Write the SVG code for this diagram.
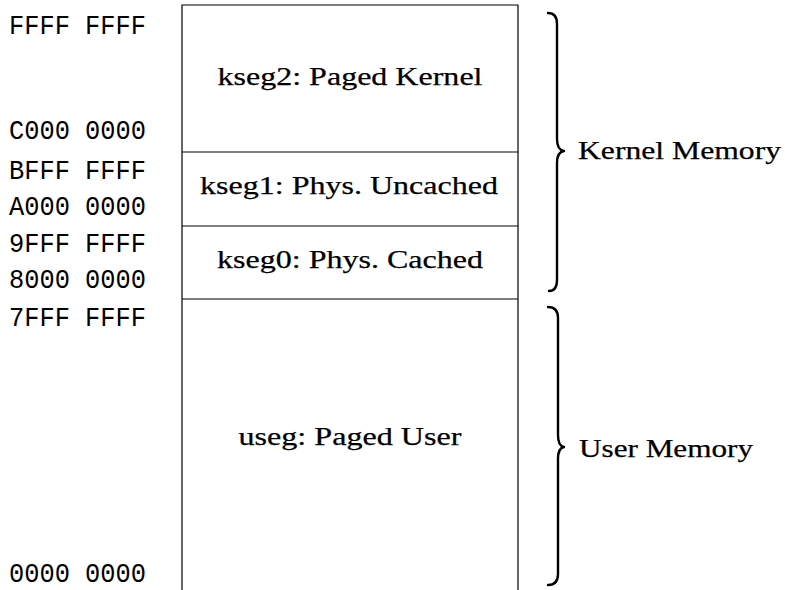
<svg xmlns="http://www.w3.org/2000/svg" width="785" height="590" viewBox="0 0 785 590">
<style>
.box{fill:none;stroke:#000;stroke-width:1.2}
.seg{font-family:"Liberation Serif","Times New Roman",serif;font-size:26px;fill:#000;stroke:#000;stroke-width:0.25;text-anchor:middle}
.addr{font-family:"Liberation Mono","Courier New",monospace;font-size:28px;fill:#000}
.brace{fill:none;stroke:#000;stroke-width:2.4;stroke-linecap:round;stroke-linejoin:round}
.lbl{font-family:"Liberation Serif","Times New Roman",serif;font-size:26px;fill:#000;stroke:#000;stroke-width:0.25}
</style>
<rect width="785" height="590" fill="#fff"/>
<g id="memory-map">
  <path class="box" d="M182,590 V5 H518 V590"/>
</g>
<g id="kseg2">
  <line class="box" x1="182" y1="152" x2="518" y2="152"/>
  <text class="seg" x="350" y="85" textLength="265" lengthAdjust="spacingAndGlyphs">kseg2: Paged Kernel</text>
</g>
<g id="kseg1">
  <line class="box" x1="182" y1="226" x2="518" y2="226"/>
  <text class="seg" x="349" y="194" textLength="298" lengthAdjust="spacingAndGlyphs">kseg1: Phys. Uncached</text>
</g>
<g id="kseg0">
  <line class="box" x1="182" y1="299" x2="518" y2="299"/>
  <text class="seg" x="350" y="268" textLength="266" lengthAdjust="spacingAndGlyphs">kseg0: Phys. Cached</text>
</g>
<g id="useg">
  <text class="seg" x="350" y="445" textLength="223" lengthAdjust="spacingAndGlyphs">useg: Paged User</text>
</g>
<g id="addresses">
  <text class="addr" x="9" y="34" textLength="137" lengthAdjust="spacingAndGlyphs">FFFF FFFF</text>
  <text class="addr" x="9" y="139" textLength="137" lengthAdjust="spacingAndGlyphs">C000 0000</text>
  <text class="addr" x="9" y="179" textLength="137" lengthAdjust="spacingAndGlyphs">BFFF FFFF</text>
  <text class="addr" x="9" y="215" textLength="137" lengthAdjust="spacingAndGlyphs">A000 0000</text>
  <text class="addr" x="9" y="252" textLength="137" lengthAdjust="spacingAndGlyphs">9FFF FFFF</text>
  <text class="addr" x="9" y="288" textLength="137" lengthAdjust="spacingAndGlyphs">8000 0000</text>
  <text class="addr" x="9" y="326" textLength="137" lengthAdjust="spacingAndGlyphs">7FFF FFFF</text>
  <text class="addr" x="9" y="582" textLength="137" lengthAdjust="spacingAndGlyphs">0000 0000</text>
</g>
<g id="connectors">
  <path class="brace" d="M548,13 Q557,13 557,24 L557,139 Q557,150 564,151 Q557,152 557,163 L557,280 Q557,291 549,291"/>
  <path class="brace" d="M548,307 Q558,307 558,318 L558,435 Q558,446 564,447 Q558,448 558,459 L558,574 Q558,585 548,585"/>
</g>
<g id="kernel-memory">
  <text class="lbl" x="578" y="159" textLength="203" lengthAdjust="spacingAndGlyphs">Kernel Memory</text>
</g>
<g id="user-memory">
  <text class="lbl" x="579" y="457" textLength="174" lengthAdjust="spacingAndGlyphs">User Memory</text>
</g>
</svg>
